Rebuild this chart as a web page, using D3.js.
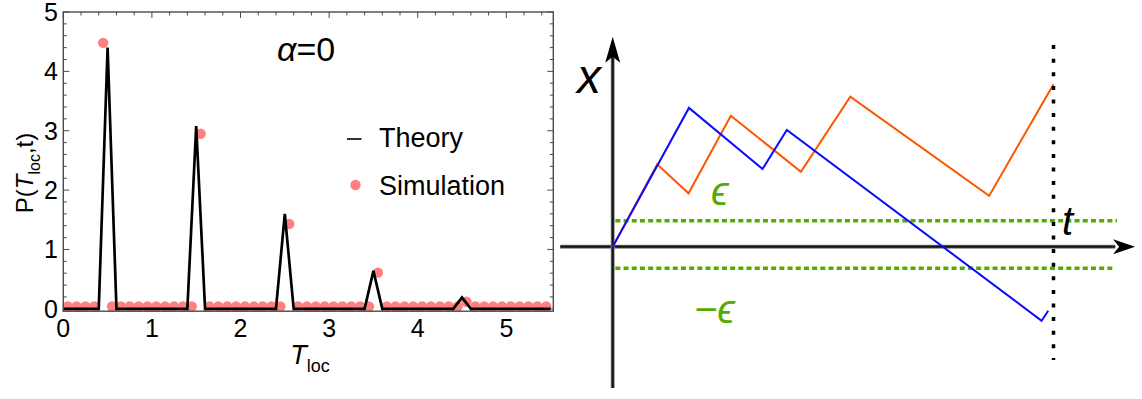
<!DOCTYPE html>
<html>
<head>
<meta charset="utf-8">
<script src="https://cdn.jsdelivr.net/npm/d3@7/dist/d3.min.js"></script>
<style>
  html, body { margin: 0; padding: 0; background: #fff; }
  svg { display: block; }
  text { font-family: "Liberation Sans", Arial, sans-serif; }
</style>
</head>
<body>
<svg id="fig" width="1142" height="399"></svg>
<script>
// ---------- Left panel: P(T_loc, t) ----------
// Theory curve vertices (T_loc, P)
const theoryT = [0, 0.4, 0.5, 0.6, 1.4, 1.5, 1.6, 2.4, 2.5, 2.6, 3.4, 3.5, 3.6, 4.4, 4.5, 4.6, 5.5];
const theoryP = [0, 0, 4.4, 0, 0, 3.08, 0, 0, 1.6, 0, 0, 0.64, 0, 0, 0.19, 0, 0];

// Simulation histogram (bin centres, estimated density)
const simT = [0.05, 0.15, 0.25, 0.35, 0.45, 0.55, 0.65, 0.75, 0.85, 0.95,
              1.05, 1.15, 1.25, 1.35, 1.45, 1.55, 1.65, 1.75, 1.85, 1.95,
              2.05, 2.15, 2.25, 2.35, 2.45, 2.55, 2.65, 2.75, 2.85, 2.95,
              3.05, 3.15, 3.25, 3.35, 3.45, 3.55, 3.65, 3.75, 3.85, 3.95,
              4.05, 4.15, 4.25, 4.35, 4.45, 4.55, 4.65, 4.75, 4.85, 4.95,
              5.05, 5.15, 5.25, 5.35, 5.45];
const simP = [0.04, 0.04, 0.04, 0.04, 4.48, 0.04, 0.04, 0.04, 0.04, 0.04,
              0.04, 0.04, 0.04, 0.04, 0.04, 2.95, 0.04, 0.04, 0.04, 0.04,
              0.04, 0.04, 0.04, 0.04, 0.04, 1.43, 0.04, 0.04, 0.04, 0.04,
              0.04, 0.04, 0.04, 0.04, 0.04, 0.61, 0.04, 0.04, 0.04, 0.04,
              0.04, 0.04, 0.04, 0.04, 0.04, 0.12, 0.04, 0.04, 0.04, 0.04,
              0.04, 0.04, 0.04, 0.04, 0.04];

const xTickLabels = ["0", "1", "2", "3", "4", "5"];
const yTickLabels = ["0", "1", "2", "3", "4", "5"];
const legendLabels = ["Theory", "Simulation"];

// ---------- Right panel: sketch of two trajectories x(t) ----------
const blueT = [0, 1.73, 3.40, 3.95, 9.73, 9.88];
const blueX = [0, 6.94, 3.89, 5.84, -3.70, -3.20];
const orangeT = [0, 1.01, 1.72, 2.68, 4.27, 5.39, 8.54, 10.0];
const orangeX = [0, 4.12, 2.67, 6.55, 3.75, 7.5, 2.54, 8.12];
const epsUpper = 1.3, epsLower = -1.08;
const tFinal = 10;

const svg = d3.select("#fig");

// ===== Left panel =====
const L = { x0: 63.3, x1: 553.3, y0: 311.2, y1: 12 };
const xs = d3.scaleLinear().domain([0, 5.53]).range([L.x0, L.x1]);
const ys = d3.scaleLinear().domain([-0.04, 5]).range([L.y0, L.y1]);

svg.append("defs").append("clipPath").attr("id", "plotClip")
  .append("rect").attr("x", L.x0).attr("y", L.y1)
  .attr("width", L.x1 - L.x0).attr("height", L.y0 - L.y1);

const left = svg.append("g");

// tick marks on all four sides (inward)
const frameCol = "#4a4a4a";
const xMinor = d3.range(0, 5.53, 0.2);
const yMinor = d3.range(0, 5.001, 0.2);
const tickG = left.append("g").attr("stroke", frameCol).attr("stroke-width", 1);
function isMajor(v) { return Math.abs(v - Math.round(v)) < 1e-6; }
xMinor.forEach(v => {
  const len = isMajor(v) ? 6 : 3.5;
  tickG.append("line").attr("x1", xs(v)).attr("x2", xs(v)).attr("y1", L.y0).attr("y2", L.y0 - len);
  tickG.append("line").attr("x1", xs(v)).attr("x2", xs(v)).attr("y1", L.y1).attr("y2", L.y1 + len);
});
yMinor.forEach(v => {
  const len = isMajor(v) ? 6 : 3.5;
  tickG.append("line").attr("y1", ys(v)).attr("y2", ys(v)).attr("x1", L.x0).attr("x2", L.x0 + len);
  tickG.append("line").attr("y1", ys(v)).attr("y2", ys(v)).attr("x1", L.x1).attr("x2", L.x1 - len);
});

// simulation points
const plot = left.append("g").attr("clip-path", "url(#plotClip)");
plot.selectAll("circle.sim").data(simT).join("circle")
  .attr("class", "sim")
  .attr("cx", (d) => xs(d))
  .attr("cy", (d, i) => ys(simP[i]))
  .attr("r", 5.2)
  .attr("fill", "#ff8080");

// theory curve
const line = d3.line().x(d => xs(d[0])).y(d => ys(d[1]));
plot.append("path")
  .attr("d", line(theoryT.map((t, i) => [t, theoryP[i]])))
  .attr("fill", "none").attr("stroke", "#000").attr("stroke-width", 2.7)
  .attr("stroke-linejoin", "miter");

// frame
left.append("rect").attr("x", L.x0).attr("y", L.y1)
  .attr("width", L.x1 - L.x0).attr("height", L.y0 - L.y1)
  .attr("fill", "none").attr("stroke", frameCol).attr("stroke-width", 1.4);

// tick labels
left.append("g").selectAll("text").data(xTickLabels).join("text")
  .attr("x", d => xs(+d)).attr("y", 337)
  .attr("text-anchor", "middle").attr("font-size", 25).text(d => d);
left.append("g").selectAll("text").data(yTickLabels).join("text")
  .attr("x", 58).attr("y", d => ys(+d) + 9)
  .attr("text-anchor", "end").attr("font-size", 25).text(d => d);

// axis titles
const xt = left.append("text").attr("x", 310).attr("y", 364)
  .attr("text-anchor", "middle").attr("font-size", 27);
xt.append("tspan").attr("font-style", "italic").text("T");
xt.append("tspan").attr("font-size", 18).attr("dy", 8).text("loc");

const yt = left.append("text")
  .attr("transform", "translate(33,173) rotate(-90)")
  .attr("text-anchor", "middle").attr("font-size", 24);
yt.append("tspan").text("P(");
yt.append("tspan").attr("font-style", "italic").text("T");
yt.append("tspan").attr("font-size", 16).attr("dy", 7).text("loc");
yt.append("tspan").attr("dy", -7).text(",t)");

// annotation
const at = left.append("text").attr("x", 277).attr("y", 61).attr("font-size", 34);
at.append("tspan").attr("font-style", "italic").text("α");
at.append("tspan").text("=0");

// legend
left.append("line").attr("x1", 347).attr("x2", 361.5).attr("y1", 139).attr("y2", 139)
  .attr("stroke", "#000").attr("stroke-width", 1.6);
left.append("circle").attr("cx", 355.5).attr("cy", 185).attr("r", 5.2).attr("fill", "#ff8080");
left.append("g").selectAll("text").data(legendLabels).join("text")
  .attr("x", 379).attr("y", (d, i) => 147 + i * 48)
  .attr("font-size", 27).text(d => d);

// ===== Right panel =====
const tS = d3.scaleLinear().domain([0, 10]).range([612.7, 1053.5]);
const xS = d3.scaleLinear().domain([0, 1]).range([246.7, 226.7]);
const right = svg.append("g");
const green = "#55aa00";

// epsilon band
right.append("line")
  .attr("x1", tS(0.06)).attr("x2", tS(11.44)).attr("y1", xS(epsUpper)).attr("y2", xS(epsUpper))
  .attr("stroke", green).attr("stroke-width", 3.5).attr("stroke-dasharray", "5,3.2");
right.append("line")
  .attr("x1", tS(0.06)).attr("x2", tS(11.35)).attr("y1", xS(epsLower)).attr("y2", xS(epsLower))
  .attr("stroke", green).attr("stroke-width", 3.5).attr("stroke-dasharray", "5,3.2");

// axes
const axisCol = "#111";
right.append("line")
  .attr("x1", tS(-1.19)).attr("x2", tS(11.4)).attr("y1", xS(0)).attr("y2", xS(0))
  .attr("stroke", "#888").attr("stroke-width", 4);
right.append("line")
  .attr("x1", tS(-1.19)).attr("x2", tS(11.4)).attr("y1", xS(0)).attr("y2", xS(0))
  .attr("stroke", axisCol).attr("stroke-width", 2.2);
right.append("line")
  .attr("x1", tS(0)).attr("x2", tS(0)).attr("y1", xS(-7.07)).attr("y2", xS(9.5))
  .attr("stroke", "#888").attr("stroke-width", 4);
right.append("line")
  .attr("x1", tS(0)).attr("x2", tS(0)).attr("y1", xS(-7.07)).attr("y2", xS(9.5))
  .attr("stroke", axisCol).attr("stroke-width", 2.2);

// arrowheads
const tipT = [tS(11.85), xS(0)];
right.append("path")
  .attr("d", `M${tipT[0]},${tipT[1]} L${tipT[0] - 22},${tipT[1] - 7.5} L${tipT[0] - 16},${tipT[1]} L${tipT[0] - 22},${tipT[1] + 7.5} Z`)
  .attr("fill", "#000");
const tipX = [tS(0), xS(10.5)];
right.append("path")
  .attr("d", `M${tipX[0]},${tipX[1]} L${tipX[0] - 7.5},${tipX[1] + 26} L${tipX[0]},${tipX[1] + 20} L${tipX[0] + 7.5},${tipX[1] + 26} Z`)
  .attr("fill", "#000");

// trajectories
const traj = d3.line().x(d => tS(d[0])).y(d => xS(d[1]));
right.append("path")
  .attr("d", traj(orangeT.map((t, i) => [t, orangeX[i]])))
  .attr("fill", "none").attr("stroke", "#ff5500").attr("stroke-width", 2);
right.append("path")
  .attr("d", traj(blueT.map((t, i) => [t, blueX[i]])))
  .attr("fill", "none").attr("stroke", "#0a0aff").attr("stroke-width", 2);

// final-time marker
right.append("line")
  .attr("x1", tS(tFinal)).attr("x2", tS(tFinal)).attr("y1", xS(10.08)).attr("y2", xS(-5.67))
  .attr("stroke", "#000").attr("stroke-width", 3.5).attr("stroke-dasharray", "4,9.6");

// labels
right.append("text").attr("x", 577).attr("y", 93)
  .attr("font-size", 48).attr("font-style", "italic").text("x");
right.append("text").attr("x", 1062).attr("y", 235)
  .attr("font-size", 40).attr("font-style", "italic").text("t");
right.append("text").attr("x", 711).attr("y", 205)
  .attr("font-family", "DejaVu Sans").attr("font-size", 40).attr("font-style", "italic")
  .attr("fill", green).text("ϵ");
right.append("text").attr("x", 694).attr("y", 323)
  .attr("font-family", "DejaVu Sans").attr("font-size", 40).attr("font-style", "italic")
  .attr("fill", green).text("−ϵ");
</script>
</body>
</html>
